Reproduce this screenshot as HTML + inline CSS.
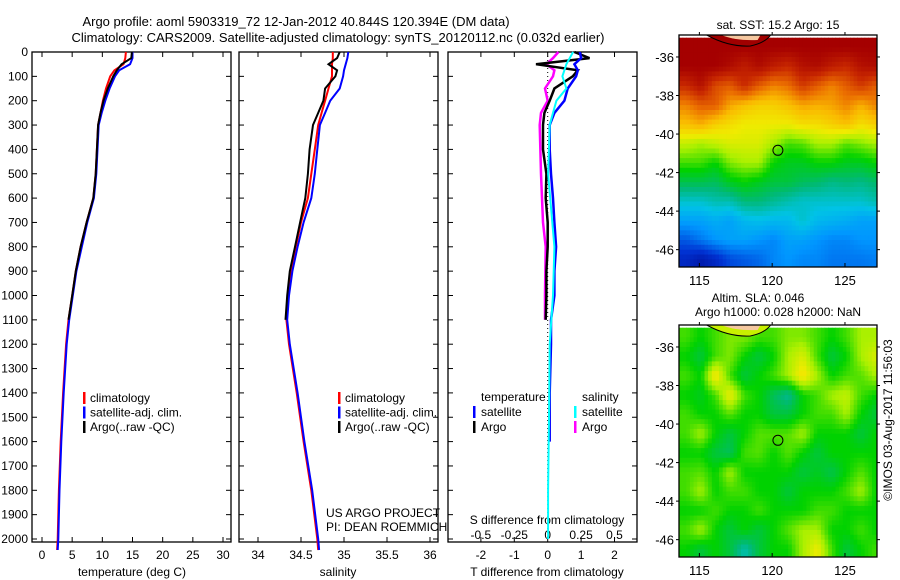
<!DOCTYPE html>
<html><head><meta charset="utf-8">
<style>
html,body{margin:0;padding:0;background:#fff;}
svg{display:block;font-family:"Liberation Sans",sans-serif;font-size:12px;}
</style></head>
<body>
<svg id="chart" width="900" height="580" viewBox="0 0 900 580" xmlns="http://www.w3.org/2000/svg">
<rect width="900" height="580" fill="#fff"/>
<text x="296" y="26" text-anchor="middle" font-size="13">Argo profile: aoml 5903319_72 12-Jan-2012 40.844S 120.394E (DM data)</text>
<text x="338" y="42" text-anchor="middle" font-size="13">Climatology: CARS2009. Satellite-adjusted climatology: synTS_20120112.nc (0.032d earlier)</text>
<g id="g"></g>
</svg>
<script>
// ---- profile data ----
const depths = [0,25,50,75,100,150,200,250,300,400,500,600,700,800,900,1000,1100,1200,1400,1600,1800,2000,2045];
const tempClim = [13.9,13.8,13.5,12.0,11.3,10.6,10.1,9.7,9.3,9.1,8.9,8.5,7.4,6.4,5.6,5.0,4.4,4.0,3.5,3.1,2.8,2.6,2.5];
const tempSat  = [15.0,15.0,14.6,12.8,12.1,11.2,10.5,9.9,9.4,9.2,9.0,8.6,7.5,6.6,5.7,5.1,4.5,4.1,3.6,3.2,2.9,2.7,2.6];
const argoDepths = [0,25,50,75,100,150,200,250,300,400,500,600,700,800,900,1000,1100];
const tempArgo = [14.9,14.8,13.2,12.4,11.8,10.9,10.2,9.7,9.3,9.1,8.9,8.5,7.4,6.4,5.6,5.0,4.4];
const salClim = [34.87,34.87,34.86,34.86,34.86,34.82,34.78,34.74,34.70,34.66,34.62,34.58,34.50,34.44,34.38,34.35,34.33,34.36,34.45,34.53,34.62,34.69,34.70];
const salSat  = [35.05,35.04,35.02,35.0,34.99,34.95,34.84,34.78,34.72,34.69,34.66,34.62,34.53,34.46,34.40,34.36,34.34,34.37,34.46,34.54,34.63,34.70,34.71];
const salArgo = [34.95,34.92,34.82,34.92,34.90,34.78,34.76,34.70,34.64,34.60,34.58,34.55,34.49,34.43,34.37,34.34,34.32];
// ---- difference data ----
const diffDepths = [0,25,50,75,100,150,200,250,300,400,500,600,700,800,900,1000,1100,1200,1400,1600];
const dTSat = [0.96,1.0,0.8,0.9,0.85,0.6,0.5,0.2,0.06,0.06,0.1,0.16,0.2,0.25,0.2,0.2,0.1,0.1,0.06,0.06];
const dTArgo = [0.8,1.25,-0.35,0.9,0.75,0.2,0.06,-0.1,-0.14,-0.14,-0.04,-0.06,0,0,-0.04,-0.04,-0.06];
const dSDepths = [0,50,100,150,200,250,300,500,800,1000,1200,1500,1800,2000];
const dSSat = [0.19,0.14,0.11,0.14,0.065,0.04,0.015,0.003,0.05,0.04,0.015,0.01,0.003,0.003];
const dSArgoDepths = [0,25,50,75,100,150,200,250,300,500,700,800,1000,1100];
const dSArgo = [0.08,0.04,-0.01,0.05,0.04,-0.02,0,-0.05,-0.06,-0.05,-0.035,-0.015,-0.02,-0.02];
// ---- tick labels ----
const depthTicks = [0,100,200,300,400,500,600,700,800,900,1000,1100,1200,1300,1400,1500,1600,1700,1800,1900,2000];
const tempTicks = [0,5,10,15,20,25,30];
const salTicks = [34,34.5,35,35.5,36];
const salTickLabels = ["34","34.5","35","35.5","36"];
const dTTicks = [-2,-1,0,1,2];
const dSTicks = [-0.5,-0.25,0,0.25,0.5];
const dSTickLabels = ["-0.5","-0.25","0","0.25","0.5"];
const lonTicks = [115,120,125];
const latTicks = [-36,-38,-40,-42,-44,-46];
// ---- maps (rows north->south, 1deg cells from lat -35, lon 113.6) ----
const sstGrid = [
[.95,.95,.95,.95,.95,.95,.95,.95,.95,.95,.95,.95,.95,.95],
[.95,.95,.95,.93,.9,.93,.9,.88,.92,.93,.9,.88,.92,.93],
[.88,.92,.84,.82,.88,.82,.78,.8,.86,.82,.78,.82,.86,.82],
[.78,.82,.82,.75,.72,.7,.7,.72,.75,.74,.75,.78,.74,.78],
[.72,.74,.7,.68,.66,.66,.66,.66,.68,.68,.7,.72,.68,.7],
[.62,.6,.62,.64,.64,.64,.6,.55,.56,.6,.6,.56,.58,.6],
[.55,.55,.52,.58,.6,.6,.52,.5,.5,.52,.52,.5,.5,.52],
[.47,.47,.46,.5,.52,.5,.48,.48,.46,.45,.43,.44,.43,.45],
[.38,.38,.4,.4,.44,.44,.42,.4,.38,.38,.38,.38,.38,.4],
[.3,.3,.32,.3,.34,.35,.34,.34,.38,.34,.33,.32,.3,.3],
[.2,.24,.28,.3,.3,.28,.26,.3,.3,.28,.26,.26,.28,.28],
[.12,.08,.12,.18,.2,.22,.26,.28,.26,.26,.24,.24,.24,.25]];
const slaGrid = [
[.55,.52,.55,.58,.58,.55,.55,.58,.58,.55,.52,.55,.6,.6],
[.52,.48,.55,.58,.52,.48,.52,.6,.64,.55,.48,.52,.6,.64],
[.55,.52,.68,.55,.48,.52,.55,.6,.68,.6,.52,.55,.56,.6],
[.52,.5,.55,.66,.55,.52,.46,.42,.52,.55,.6,.62,.55,.52],
[.55,.52,.52,.56,.52,.52,.48,.48,.52,.55,.55,.6,.52,.48],
[.55,.6,.52,.48,.52,.56,.56,.56,.6,.52,.52,.52,.48,.52],
[.52,.52,.48,.46,.55,.56,.52,.56,.52,.48,.52,.52,.52,.52],
[.55,.56,.52,.6,.52,.52,.52,.52,.48,.5,.47,.52,.56,.52],
[.55,.6,.52,.55,.55,.52,.52,.48,.52,.52,.52,.55,.6,.52],
[.52,.52,.55,.52,.52,.55,.52,.52,.52,.55,.55,.52,.52,.52],
[.55,.6,.52,.48,.52,.48,.52,.56,.6,.6,.52,.52,.55,.52],
[.52,.48,.52,.48,.4,.48,.52,.52,.6,.66,.55,.48,.52,.55]];
const floatPos = [120.394,-40.844];

const NS="http://www.w3.org/2000/svg";
const G=document.getElementById('g');
function el(t,a,p){const e=document.createElementNS(NS,t);for(const k in a)e.setAttribute(k,a[k]);(p||G).appendChild(e);return e;}
const Y0=52,Y1=542;
const yD=d=>Y0+d*(487/2000);

function panel(x0,x1,name){
  const r=el('rect',{x:x0,y:Y0,width:x1-x0,height:Y1-Y0,fill:'none',stroke:'#000','stroke-width':1.3});
  
  
  depthTicks.forEach(d=>{el('line',{x1:x0,x2:x0+5,y1:yD(d),y2:yD(d),stroke:'#000'});el('line',{x1:x1,x2:x1-5,y1:yD(d),y2:yD(d),stroke:'#000'});});
}
function line(xs,ds,fx,color,w,name){
  const pts=xs.map((v,i)=>fx(v).toFixed(1)+','+yD(ds[i]).toFixed(1)).join(' ');
  const p=el('polyline',{points:pts,fill:'none',stroke:color,'stroke-width':w});
  
  
}
function txt(x,y,s,anchor,name,size){
  const t=el('text',{x:x,y:y,'text-anchor':anchor||'start','font-size':size||12});t.textContent=s;
  
  
  return t;
}
depthTicks.forEach(d=>txt(28,yD(d)+4,String(d),'end','depth-tick-label'));

// Panel 1: temperature
const xT=v=>42+v*(181/30);
panel(32,231,'temperature-panel');
tempTicks.forEach(v=>{el('line',{x1:xT(v),x2:xT(v),y1:Y1,y2:Y1-5,stroke:'#000'});el('line',{x1:xT(v),x2:xT(v),y1:Y0,y2:Y0+5,stroke:'#000'});txt(xT(v),559,String(v),'middle','temperature-tick-label');});
txt(132,576,'temperature (deg C)','middle','x-axis-title-temperature');
line(tempClim,depths,xT,'#f00',2,'temperature-climatology-line');
line(tempSat,depths,xT,'#00f',2,'temperature-satellite-line');
line(tempArgo,argoDepths,xT,'#000',2,'temperature-argo-line');

// Panel 2: salinity
const xS=v=>258+(v-34)*86;
panel(239,438,'salinity-panel');
salTicks.forEach((v,i)=>{el('line',{x1:xS(v),x2:xS(v),y1:Y1,y2:Y1-5,stroke:'#000'});el('line',{x1:xS(v),x2:xS(v),y1:Y0,y2:Y0+5,stroke:'#000'});txt(xS(v),559,salTickLabels[i],'middle','salinity-tick-label');});
txt(338,576,'salinity','middle','x-axis-title-salinity');
line(salClim,depths,xS,'#f00',2,'salinity-climatology-line');
line(salSat,depths,xS,'#00f',2,'salinity-satellite-line');
line(salArgo,argoDepths,xS,'#000',2,'salinity-argo-line');

function legend(x,items,prefix){
  items.forEach((it,i)=>{const y=398+i*14.5;
    const b=el('rect',{x:x,y:y-6,width:2.5,height:12,fill:it[1]});
    
    
    txt(x+7,y+4,it[0],'start',prefix+'-legend-entry');});
}
const legItems=[['climatology','#f00'],['satellite-adj. clim.','#00f'],['Argo(..raw -QC)','#000']];
legend(83,legItems,'temperature');
legend(338,legItems,'salinity');
txt(326,517,'US ARGO PROJECT','start','project-label');
txt(326,531,'PI: DEAN ROEMMICH','start','pi-label');

// Panel 3: differences
const xDT=v=>547.7+v*33.4;
const xDS=v=>547.7+v*133.6;
panel(448,637,'difference-panel');
dTTicks.forEach(v=>{el('line',{x1:xDT(v),x2:xDT(v),y1:Y1,y2:Y1-5,stroke:'#000'});el('line',{x1:xDT(v),x2:xDT(v),y1:Y0,y2:Y0+5,stroke:'#000'});txt(xDT(v),559,String(v),'middle','t-diff-tick-label');});
dSTicks.forEach((v,i)=>txt(xDS(v),539,dSTickLabels[i],'middle','s-diff-tick-label'));
txt(547,524,'S difference from climatology','middle','s-diff-axis-title');
txt(547,576,'T difference from climatology','middle','t-diff-axis-title');
el('line',{x1:xDT(0),x2:xDT(0),y1:yD(0),y2:yD(2000),stroke:'#000','stroke-dasharray':'1,3'});
line(dSArgo,dSArgoDepths,xDS,'#f0f',2.5,'salinity-argo-diff-line');
line(dTArgo,diffDepths.slice(0,dTArgo.length),xDT,'#000',2.5,'temperature-argo-diff-line');
line(dTSat,diffDepths,xDT,'#00f',2.5,'temperature-satellite-diff-line');
line(dSSat,dSDepths,xDS,'#0ff',2,'salinity-satellite-diff-line');
txt(481,401,'temperature','start','diff-legend-temperature-header');
txt(582,401,'salinity','start','diff-legend-salinity-header');
[['satellite','#00f',473,412],['Argo','#000',473,427],['satellite','#0ff',574,412],['Argo','#f0f',574,427]].forEach(it=>{
  const b=el('rect',{x:it[2],y:it[3]-6,width:2.5,height:12,fill:it[1]});
  
  
  txt(it[2]+8,it[3]+4,it[0],'start','diff-legend-entry');
});

// maps
const cmStops=[[0,0,0,130],[0.15,0,50,210],[0.28,0,150,255],[0.36,0,195,230],[0.44,0,185,120],[0.52,0,210,0],[0.6,170,240,0],[0.66,240,235,0],[0.73,250,185,0],[0.8,235,110,0],[0.88,200,40,0],[0.95,165,0,0],[1,140,0,0]];
function cmap(v){
  v=Math.max(0,Math.min(1,v));
  for(let i=1;i<cmStops.length;i++){const a=cmStops[i-1],b=cmStops[i];
    if(v<=b[0]){const t=(v-a[0])/(b[0]-a[0]);return 'rgb('+[1,2,3].map(k=>Math.round(a[k]+(b[k]-a[k])*t)).join(',')+')';}}
  return 'rgb(140,0,0)';
}
function sample(grid,r,c){
  const R=grid.length,C=grid[0].length;
  r=Math.max(0,Math.min(R-1,r));c=Math.max(0,Math.min(C-1,c));
  const r0=Math.floor(r),c0=Math.floor(c),r1=Math.min(R-1,r0+1),c1=Math.min(C-1,c0+1),fr=r-r0,fc=c-c0;
  return grid[r0][c0]*(1-fr)*(1-fc)+grid[r0][c1]*(1-fr)*fc+grid[r1][c0]*fr*(1-fc)+grid[r1][c1]*fr*fc;
}
const defs=el('defs',{});
function map(top,grid,name,landColor){
  const X0=679,X1=877,H=232;
  const lon0=113.6,lon1=127.2,lat0=-34.86,lat1=-46.9;
  const xL=v=>X0+(v-lon0)*(X1-X0)/(lon1-lon0);
  const yL=v=>top+(lat0-v)*H/(lat0-lat1);
  const cp=el('clipPath',{id:name+'-clip'},defs);
  el('rect',{x:X0,y:top,width:X1-X0,height:H},cp);
  const N=4;
  const grp=el('g',{'clip-path':'url(#'+name+'-clip)'});
  
  
  grid.forEach((row,i)=>row.forEach((v,j)=>{
    for(let a=0;a<N;a++)for(let b=0;b<N;b++){
      const la=-35-i-a/N, lo=lon0+j+b/N;
      const y0=Math.max(top,yL(la)), y1=Math.min(top+H,yL(la-1/N));
      if(y1<=y0 || xL(lo)>=X1) continue;
      const val=sample(grid,i+(a+0.5)/N-0.5,j+(b+0.5)/N-0.5);
      el('rect',{x:xL(lo).toFixed(1),y:y0.toFixed(1),width:(xL(lo+1/N)-xL(lo)+0.6).toFixed(1),height:(y1-y0+0.6).toFixed(1),fill:cmap(val)},grp);
    }
  }));
  el('path',{d:`M${xL(115.5)} ${top} Q${xL(117)} ${top+12} ${xL(118.5)} ${top+11} Q${xL(119.5)} ${top+8} ${xL(119.9)} ${top}Z`,fill:landColor,stroke:'#000','stroke-width':1},grp);
  el('path',{d:`M${xL(116.5)} ${top} Q${xL(117.5)} ${top+6} ${xL(119)} ${top+5} L${xL(119.2)} ${top}Z`,fill:'#f5c8a0'},grp);
  const f=el('rect',{x:X0,y:top,width:X1-X0,height:H,fill:'none',stroke:'#000','stroke-width':1.3});
  
  
  lonTicks.forEach(v=>{el('line',{x1:xL(v),x2:xL(v),y1:top+H,y2:top+H-4,stroke:'#000'});el('line',{x1:xL(v),x2:xL(v),y1:top,y2:top-3,stroke:'#000'});txt(xL(v),top+H+18,String(v),'middle',name+'-lon-tick-label',13);});
  latTicks.forEach(v=>{el('line',{x1:X0,x2:X0-3,y1:yL(v),y2:yL(v),stroke:'#000'});el('line',{x1:X1,x2:X1+3,y1:yL(v),y2:yL(v),stroke:'#000'});txt(X0-5,yL(v)+5,String(v),'end',name+'-lat-tick-label',13);});
  const c=el('circle',{cx:xL(floatPos[0]),cy:yL(floatPos[1]),r:5,fill:'none',stroke:'#000','stroke-width':1});
  
  
}
map(35,sstGrid,'sst-map','#a00000');
txt(778,29,'sat. SST: 15.2 Argo: 15','middle','sst-map-title');
map(325,slaGrid,'sla-map','#c8f000');
txt(758,302,'Altim. SLA: 0.046','middle','sla-map-title');
txt(778,316,'Argo h1000: 0.028 h2000: NaN','middle','sla-map-subtitle');
const cpt=txt(0,0,'©IMOS 03-Aug-2017 11:56:03','middle','copyright-timestamp',12);
cpt.setAttribute('transform','translate(892,420) rotate(-90)');
</script>
</body></html>
